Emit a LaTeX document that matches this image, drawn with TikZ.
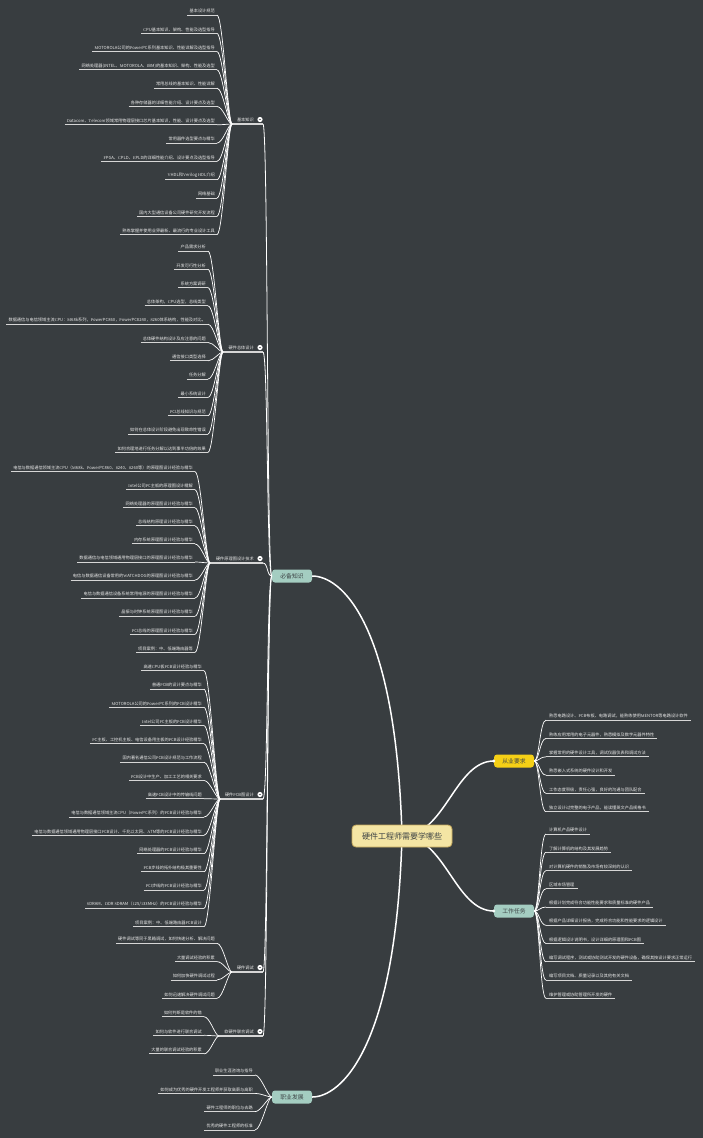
\documentclass[tikz,border=0pt]{standalone}
\usepackage{fontspec}
\setmainfont{Noto Sans CJK SC}
\newfontfamily\latfont{Liberation Serif}
\usetikzlibrary{positioning}

% Latin letters and digits in a Times-like face
\XeTeXinterchartokenstate=1
\newXeTeXintercharclass\latincls
\newcount\chcount
\chcount=`A \loop \XeTeXcharclass\chcount=\latincls \ifnum\chcount<`Z \advance\chcount 1 \repeat
\chcount=`a \loop \XeTeXcharclass\chcount=\latincls \ifnum\chcount<`z \advance\chcount 1 \repeat
\chcount=`0 \loop \XeTeXcharclass\chcount=\latincls \ifnum\chcount<`9 \advance\chcount 1 \repeat
\XeTeXinterchartoks 0 \latincls = {\latfont}
\XeTeXinterchartoks 1 \latincls = {\latfont}
\XeTeXinterchartoks 2 \latincls = {\latfont}
\XeTeXinterchartoks 3 \latincls = {\latfont}
\XeTeXinterchartoks 4095 \latincls = {\latfont}
\XeTeXinterchartoks \latincls 0 = {\rmfamily}
\XeTeXinterchartoks \latincls 1 = {\rmfamily}
\XeTeXinterchartoks \latincls 2 = {\rmfamily}
\XeTeXinterchartoks \latincls 3 = {\rmfamily}
\XeTeXinterchartoks \latincls 4095 = {\rmfamily}

\definecolor{bgcol}{RGB}{56,61,64}
\definecolor{linecol}{RGB}{214,214,214}
\definecolor{leaftext}{RGB}{232,232,232}
\definecolor{tealbox}{RGB}{164,205,193}
\definecolor{yellowbox}{RGB}{245,208,22}
\definecolor{rootfill}{RGB}{244,229,164}
\definecolor{rootdraw}{RGB}{196,168,92}
\definecolor{boxtext}{RGB}{60,66,68}

\newcommand{\leaffont}{\fontsize{4.2}{5}\selectfont}

\tikzset{
  leaf/.style={anchor=south east, inner xsep=2pt, inner ysep=1.7pt, text=leaftext, font=\leaffont},
  rleaf/.style={leaf, anchor=south west, inner xsep=3pt},
  midlabel/.style={leaf},
  uline/.style={draw=linecol, line width=0.9pt},
  twig/.style={draw=white, line width=0.7pt},
  limb/.style={draw=white, line width=1.5pt},
  topicbox/.style={rounded corners=3pt, fill=tealbox, text=boxtext, minimum width=40pt, minimum height=13pt, inner sep=1pt, font=\fontsize{5.8}{6}\selectfont},
}

% left leaves: prefix, text right x, first y, step, joint, texts
\newcommand{\leafgroup}[6]{%
  \foreach \txt [count=\i from 0] in {#6}{
    \node[leaf] (#1\i) at ({#2+2},{#3+#4*\i+5}) {\txt};
    \draw[uline] (#1\i.south west) -- (#1\i.south east);
    \draw[twig] (#1\i.south east) .. controls +(6,0) and +(-4,0) .. (#5);
  }
}
% right leaves: prefix, box, first y, step, texts
\newcommand{\rightgroup}[5]{%
  \foreach \txt [count=\i from 0] in {#5}{
    \node[rleaf] (#1\i) at (546,{#3+#4*\i+5}) {\txt};
    \draw[uline] (#1\i.south west) -- (#1\i.south east);
    \draw[twig] (#2.east) .. controls +(5,0) and +(-6,0) .. (#1\i.south west);
  }
}
% second level label: name, joint x, line y, text
\newcommand{\branchlabel}[4]{%
  \coordinate (#1c) at (#2,#3);
  \node[midlabel] (#1) at (256,#3) {#4};
  \draw[uline, line width=1.1pt] (#1c) -- (263,#3) coordinate (#1e);
  \draw[limb, line width=0.8pt] (#1e) .. controls +(5,0) and +(-5,0) .. (bibei.west);
  \fill[white] (260,{#3-4.5}) circle (2.6);
  \draw[bgcol!70!white, line width=0.5pt] (258.7,{#3-4.5}) -- (261.3,{#3-4.5});
}

\begin{document}
\begin{tikzpicture}[x=1pt,y=-1pt]
\fill[bgcol] (0,0) rectangle (703,1138);
\useasboundingbox (0,0) rectangle (703,1138);

% main topics
\coordinate (rootc) at (402,836);
\node[topicbox] (bibei) at (292,576) {必备知识};
\node[topicbox] (zhiye) at (292,1097) {职业发展};
\node[topicbox, fill=yellowbox] (congye) at (514,761) {从业要求};
\node[topicbox] (gongzuo) at (514,911) {工作任务};

\draw[limb] (rootc) .. controls (396,620) and (340,576) .. (bibei.east);
\draw[limb] (rootc) .. controls (396,1050) and (340,1097) .. (zhiye.east);
\draw[limb] (rootc) .. controls (445,836) and (455,761) .. (congye.west);
\draw[limb] (rootc) .. controls (445,836) and (455,911) .. (gongzuo.west);
\fill[white] (congye.west) circle (1.6);
\fill[white] (gongzuo.west) circle (1.6);

\node[rounded corners=4pt, fill=rootfill, draw=rootdraw, line width=0.8pt, text=boxtext,
      minimum width=100pt, minimum height=22pt, font=\fontsize{8}{9}\selectfont] (root) at (rootc) {硬件工程师需要学哪些};

% 必备知识
\branchlabel{jiben}{232}{124}{基本知识}
\leafgroup{ja}{215}{10}{18.3}{jibenc}{
  基本设计规范,
  CPU基本知识、架构、性能及选型指导,
  MOTOROLA公司的PowerPC系列基本知识、性能详解及选型指导,
  网络处理器(INTEL、MOTOROLA、IBM)的基本知识、架构、性能及选型,
  常用总线的基本知识、性能详解,
  各种存储器的详细性能介绍、设计要点及选型,
  Datacom、Telecom领域常用物理层接口芯片基本知识，性能、设计要点及选型,
  常用器件选型要点与精华,
  FPGA、CPLD、EPLD的详细性能介绍、设计要点及选型指导,
  VHDL和Verilog HDL介绍,
  网络基础,
  国内大型通信设备公司硬件研究开发流程,
  熟练掌握并使用业界最新、最流行的专业设计工具}

\branchlabel{zongti}{223}{352}{硬件总体设计}
\leafgroup{zt}{206}{246}{18.3}{zongtic}{
  产品需求分析,
  开发可行性分析,
  系统方案调研,
  总体架构，CPU选型，总线类型,
  数据通信与电信领域主流CPU：M68k系列，PowerPC860，PowerPC8240，8260体系结构，性能及对比。,
  总体硬件结构设计及应注意的问题,
  通信接口类型选择,
  任务分解,
  最小系统设计,
  PCI总线知识与规范,
  如何在总体设计阶段避免出现致命性错误,
  如何合理地进行任务分解以达到事半功倍的效果}

\branchlabel{yuanli}{210}{563}{硬件原理图设计技术}
\leafgroup{yl}{193}{466.7}{18.06}{yuanlic}{
  电信与数据通信领域主流CPU（M68k、PowerPC860、8240、8260等）的原理图设计经验与精华,
  Intel公司PC主板的原理图设计精解,
  网络处理器的原理图设计经验与精华,
  总线结构原理设计经验与精华,
  内存系统原理图设计经验与精华,
  数据通信与电信领域通用物理层接口的原理图设计经验与精华,
  电信与数据通信设备常用的WATCHDOG的原理图设计经验与精华,
  电信与数据通信设备系统常用电源的原理图设计经验与精华,
  晶振与时钟系统原理图设计经验与精华,
  PCI总线的原理图设计经验与精华,
  项目案例：中、低端路由器等}

\branchlabel{pcb}{220}{799}{硬件PCB图设计}
\leafgroup{pc}{202}{665.7}{18.29}{pcbc}{
  高速CPU板PCB设计经验与精华,
  普通PCB的设计要点与精华,
  MOTOROLA公司的PowerPC系列的PCB设计精华,
  Intel公司PC主板的PCB设计精华,
  PC主板、工控机主板、电信设备用主板的PCB设计经验精华,
  国内著名通信公司PCB设计规范与工作流程,
  PCB设计中生产、加工工艺的相关要求,
  高速PCB设计中的传输线问题,
  电信与数据通信领域主流CPU（PowerPC系列）的PCB设计经验与精华,
  电信与数据通信领域通用物理层接口PCB设计、千兆以太网、ATM等的PCB设计经验与精华,
  网络处理器的PCB设计经验与精华,
  PCB步线的拓扑结构极其重要性,
  PCI步线的PCB设计经验与精华,
  SDRAM、DDR SDRAM（125/133MHz）的PCB设计经验与精华,
  项目案例：中、低端路由器PCB设计}

\branchlabel{tiaoshi}{232}{972}{硬件调试}
\leafgroup{ts}{215}{938.3}{18.33}{tiaoshic}{
  硬件调试等同于黑箱调试，如何快速分析、解决问题,
  大量调试经验的积累,
  如何加快硬件调试过程,
  如何迅速解决硬件调试问题}

\branchlabel{lianhe}{219}{1036}{软硬件联合调试}
\leafgroup{lh}{202}{1011.7}{18.6}{lianhec}{
  如何判断是软件的错,
  如何与软件进行联合调试,
  大量的联合调试经验的积累}

% 职业发展
\leafgroup{zy}{253}{1070}{18.33}{zhiye.west}{
  职业生涯咨询与指导,
  如何成为优秀的硬件开发工程师并获取高薪与高职,
  硬件工程师的职位与去路,
  优秀的硬件工程师的标准}

% 从业要求
\rightgroup{cy}{congye}{715.2}{18.3}{
  熟悉电路设计、PCB布板、电路调试，能熟练使用MENTOR等电路设计软件,
  熟练应用常用的电子元器件，熟悉模拟及数字元器件特性,
  掌握常用的硬件设计工具，调试仪器仪表和调试方法,
  熟悉嵌入式系统的硬件设计和开发,
  工作态度积极，责任心强，良好的沟通与团队配合,
  独立设计过完整的电子产品，能读懂英文产品规格书}

% 工作任务
\rightgroup{gz}{gongzuo}{829}{18.26}{
  计算机产品硬件设计,
  了解计算机的结构及其发展趋势,
  对计算机硬件的销售及市场有较深刻的认识,
  区域市场管理,
  根据计划完成符合功能性能要求和质量标准的硬件产品,
  根据产品详细设计报告，完成符合功能和性能要求的逻辑设计,
  根据逻辑设计说明书，设计详细的原理图和PCB图,
  编写调试程序，测试或协助测试开发的硬件设备，确保其按设计要求正常运行,
  编写项目文档、质量记录以及其他有关文档,
  维护管理或协助管理所开发的硬件}
\end{tikzpicture}
\end{document}
